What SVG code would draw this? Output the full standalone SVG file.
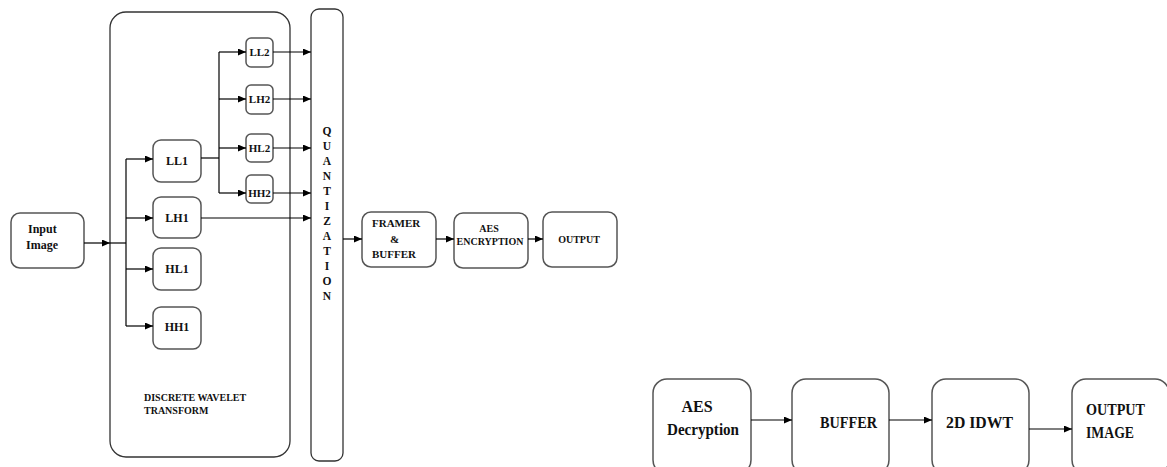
<svg xmlns="http://www.w3.org/2000/svg" width="1167" height="467" viewBox="0 0 1167 467">
<defs>
<marker id="ah" markerWidth="8" markerHeight="7" refX="8" refY="3.5" orient="auto" markerUnits="userSpaceOnUse">
<path d="M0,0 L8,3.5 L0,7 z" fill="#000"/>
</marker>
<style>
.box{fill:#fff;stroke:#555;stroke-width:1.5}
.frame{fill:none;stroke:#333;stroke-width:1.3}
.ln{fill:none;stroke:#000;stroke-width:1.2}
.t{font-family:"Liberation Serif","Times New Roman",serif;font-weight:bold;fill:#111}
</style>
</defs>
<rect width="1167" height="467" fill="#fff"/>
<g id="dwt">
<rect class="frame" x="110" y="12" width="180" height="445" rx="16"/>
<text class="t" font-size="10" x="144" y="401">DISCRETE WAVELET</text>
<text class="t" font-size="10" x="144" y="414">TRANSFORM</text>
</g>
<g id="quant">
<rect class="frame" x="311" y="9" width="32" height="452" rx="8"/>
<g class="t" font-size="11.5" text-anchor="middle">
<text x="327" y="135">Q</text><text x="327" y="150">U</text><text x="327" y="165">A</text><text x="327" y="180">N</text>
<text x="327" y="195">T</text><text x="327" y="210">I</text><text x="327" y="225">Z</text><text x="327" y="240">A</text>
<text x="327" y="255">T</text><text x="327" y="270">I</text><text x="327" y="285">O</text><text x="327" y="300">N</text>
</g>
</g>
<g id="input">
<rect class="box" x="11" y="213" width="73" height="55" rx="9"/>
<text class="t" font-size="12" x="28" y="233">Input</text>
<text class="t" font-size="12" x="26" y="249">Image</text>
</g>
<g id="ll1"><rect class="box" x="153" y="140" width="48" height="42" rx="8"/><text class="t" font-size="12" x="177" y="165" text-anchor="middle">LL1</text></g>
<g id="lh1"><rect class="box" x="153" y="197" width="48" height="41" rx="8"/><text class="t" font-size="12" x="177" y="222" text-anchor="middle">LH1</text></g>
<g id="hl1"><rect class="box" x="153" y="248" width="48" height="42" rx="8"/><text class="t" font-size="12" x="177" y="273" text-anchor="middle">HL1</text></g>
<g id="hh1"><rect class="box" x="153" y="307" width="48" height="42" rx="8"/><text class="t" font-size="12" x="177" y="331" text-anchor="middle">HH1</text></g>
<g id="ll2"><rect class="box" x="246" y="38" width="27" height="29" rx="5"/><text class="t" font-size="11" x="259.5" y="56" text-anchor="middle">LL2</text></g>
<g id="lh2"><rect class="box" x="246" y="85" width="27" height="29" rx="5"/><text class="t" font-size="11" x="259.5" y="103" text-anchor="middle">LH2</text></g>
<g id="hl2"><rect class="box" x="246" y="134" width="27" height="28" rx="5"/><text class="t" font-size="11" x="259.5" y="152" text-anchor="middle">HL2</text></g>
<g id="hh2"><rect class="box" x="246" y="175" width="27" height="28" rx="5"/><text class="t" font-size="11" x="259.5" y="197" text-anchor="middle">HH2</text></g>
<g id="framer">
<rect class="box" x="362" y="212" width="74" height="55" rx="9"/>
<text class="t" font-size="11" x="372" y="227">FRAMER</text>
<text class="t" font-size="11" x="390" y="243">&amp;</text>
<text class="t" font-size="11" x="372" y="258">BUFFER</text>
</g>
<g id="aes">
<rect class="box" x="454" y="213" width="74" height="55" rx="9"/>
<text class="t" font-size="10" x="489" y="232" text-anchor="middle">AES</text>
<text class="t" font-size="10" x="490" y="245" text-anchor="middle">ENCRYPTION</text>
</g>
<g id="output">
<rect class="box" x="543" y="212" width="74" height="55" rx="9"/>
<text class="t" font-size="10" x="579" y="243" text-anchor="middle">OUTPUT</text>
</g>
<g id="aesdec">
<rect class="box" x="653" y="379" width="98" height="95" rx="14"/>
<text class="t" font-size="16" x="697" y="412" text-anchor="middle">AES</text>
<text class="t" font-size="16" x="703" y="435" text-anchor="middle" textLength="72" lengthAdjust="spacingAndGlyphs">Decryption</text>
</g>
<g id="buffer">
<rect class="box" x="792" y="379" width="97" height="95" rx="14"/>
<text class="t" font-size="16" x="820" y="428" textLength="57" lengthAdjust="spacingAndGlyphs">BUFFER</text>
</g>
<g id="idwt">
<rect class="box" x="932" y="379" width="97" height="95" rx="14"/>
<text class="t" font-size="16" x="946" y="428" textLength="67" lengthAdjust="spacingAndGlyphs">2D  IDWT</text>
</g>
<g id="outimg">
<rect class="box" x="1072" y="379" width="97" height="95" rx="14"/>
<text class="t" font-size="16" x="1086" y="415" textLength="59" lengthAdjust="spacingAndGlyphs">OUTPUT</text>
<text class="t" font-size="16" x="1086" y="438" textLength="48" lengthAdjust="spacingAndGlyphs">IMAGE</text>
</g>
<g id="connectors">
<path class="ln" d="M84,243 H110" marker-end="url(#ah)"/>
<path class="ln" d="M110,243 H126"/>
<path class="ln" d="M126,159 V326"/>
<path class="ln" d="M126,159 H153" marker-end="url(#ah)"/>
<path class="ln" d="M126,218 H153" marker-end="url(#ah)"/>
<path class="ln" d="M126,269 H153" marker-end="url(#ah)"/>
<path class="ln" d="M126,326 H153" marker-end="url(#ah)"/>
<path class="ln" d="M201,158 H219"/>
<path class="ln" d="M219,52 V193"/>
<path class="ln" d="M219,52 H246" marker-end="url(#ah)"/>
<path class="ln" d="M219,99 H246" marker-end="url(#ah)"/>
<path class="ln" d="M219,148 H246" marker-end="url(#ah)"/>
<path class="ln" d="M219,193 H246" marker-end="url(#ah)"/>
<path class="ln" d="M273,52 H311" marker-end="url(#ah)"/>
<path class="ln" d="M273,99 H311" marker-end="url(#ah)"/>
<path class="ln" d="M273,148 H311" marker-end="url(#ah)"/>
<path class="ln" d="M273,193 H311" marker-end="url(#ah)"/>
<path class="ln" d="M201,218 H311" marker-end="url(#ah)"/>
<path class="ln" d="M343,239 H362" marker-end="url(#ah)"/>
<path class="ln" d="M436,239 H454" marker-end="url(#ah)"/>
<path class="ln" d="M528,239 H543" marker-end="url(#ah)"/>
<path class="ln" d="M751,420 H792" marker-end="url(#ah)"/>
<path class="ln" d="M889,420 H932" marker-end="url(#ah)"/>
<path class="ln" d="M1029,429 H1072" marker-end="url(#ah)"/>
</g>
</svg>
